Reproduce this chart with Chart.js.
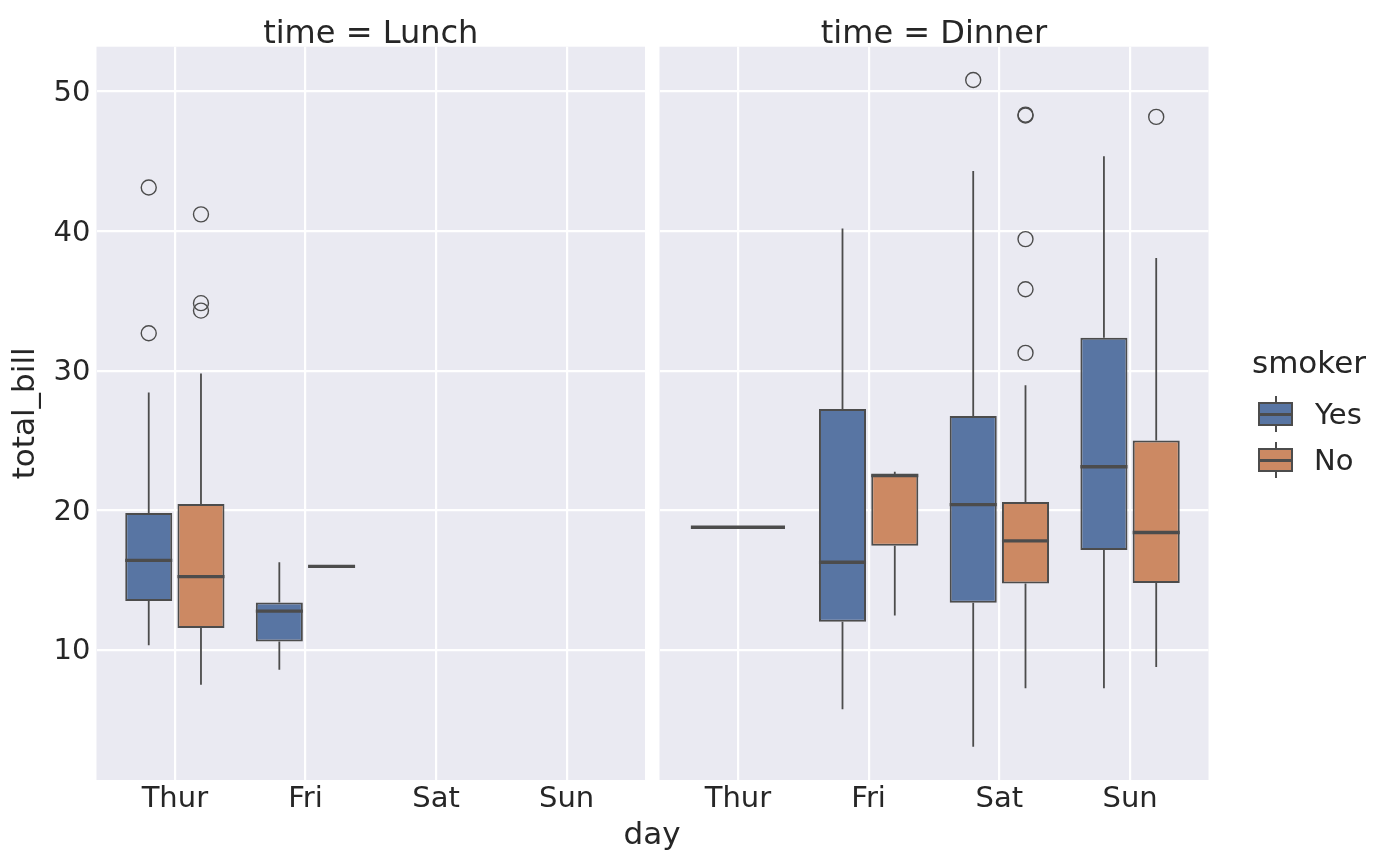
<!DOCTYPE html>
<html>
<head>
<meta charset="utf-8">
<script src="https://cdn.jsdelivr.net/npm/chart.js@4.4.1/dist/chart.umd.min.js"></script>
<style>
  body { margin: 0; background: #fff; }
  #wrap { position: relative; width: 1400px; height: 866px; overflow: hidden;
          font-family: 'DejaVu Sans', sans-serif; color: #262626; }
  canvas { position: absolute; left: 0; top: 0; }
  .txt { position: absolute; white-space: nowrap; }
  .patch { position: absolute; left: 1258px; width: 35px; height: 24px; box-sizing: border-box;
           border: 2px solid #4c4c4c; }
  .med { position: absolute; left: 0; right: 0; top: 50%; height: 3px; margin-top: -1.5px; background: #4c4c4c; }
  .whisk { position: absolute; left: 1275px; width: 2px; height: 6px; background: #4c4c4c; }
</style>
</head>
<body>
<div id="wrap">
  <canvas id="lunch" width="1400" height="866"></canvas>
  <canvas id="dinner" width="1400" height="866"></canvas>

  <div class="txt" style="left:652px;top:817.8px;font-size:31px;line-height:31px;transform:translateX(-50%)">day</div>

  <div class="txt" style="left:1252px;top:346.5px;font-size:31px;line-height:31px">smoker</div>
  <div class="whisk" style="top:396px"></div>
  <div class="whisk" style="top:426px"></div>
  <div class="patch" style="top:402px;background:#5875a3"><div class="med"></div></div>
  <div class="txt" style="left:1315px;top:399.8px;font-size:29px;line-height:29px">Yes</div>
  <div class="whisk" style="top:442px"></div>
  <div class="whisk" style="top:472px"></div>
  <div class="patch" style="top:448px;background:#cc8963"><div class="med"></div></div>
  <div class="txt" style="left:1314px;top:446.2px;font-size:29px;line-height:29px">No</div>
</div>
<script>
// categories and tick labels
const days = ['Thur', 'Fri', 'Sat', 'Sun'];
const yTicks = [10, 20, 30, 40, 50];

// box stats per day: [low whisker, q1, median, q3, high whisker], null = no data
const lunchYes = [[10.34, 13.51, 16.41, 19.80, 28.44], [8.58, 10.61, 12.78, 13.39, 16.27], null, null];
const lunchNo = [[7.51, 11.57, 15.25, 20.45, 29.80], [15.98, 15.98, 15.98, 15.98, 15.98], null, null];
const dinnerYes = [null, [5.75, 12.01, 16.28, 27.26, 40.17], [3.07, 13.38, 20.40, 26.75, 44.30], [7.25, 17.15, 23.12, 32.36, 45.35]];
const dinnerNo = [[18.78, 18.78, 18.78, 18.78, 18.78], [12.46, 17.46, 22.49, 22.58, 22.75], [7.25, 14.75, 17.81, 20.59, 28.95], [8.77, 14.79, 18.41, 24.99, 38.07]];

// outliers per day
const lunchYesOut = [[43.11, 32.68], [], [], []];
const lunchNoOut = [[41.19, 34.83, 34.30], [], [], []];
const dinnerYesOut = [[], [], [50.81], []];
const dinnerNoOut = [[], [], [48.27, 48.33, 39.42, 35.83, 31.27], [48.17]];

const yesColor = '#5875a3';
const noColor = '#cc8963';
const lineColor = '#4c4c4c';
const textColor = '#262626';

Chart.defaults.font.family = "'DejaVu Sans', sans-serif";
Chart.defaults.color = textColor;

// grey plot background
const bgPlugin = {
  id: 'plotBg',
  beforeDraw(chart) {
    const a = chart.chartArea;
    chart.ctx.save();
    chart.ctx.fillStyle = '#eaeaf2';
    chart.ctx.fillRect(a.left, a.top, a.right - a.left, a.bottom - a.top);
    chart.ctx.restore();
  }
};

// whiskers, medians and outliers on top of the floating bars
const boxPlugin = {
  id: 'boxParts',
  afterDatasetsDraw(chart) {
    const ctx = chart.ctx;
    const y = chart.scales.y;
    chart.data.datasets.forEach((ds, i) => {
      const meta = chart.getDatasetMeta(i);
      ds.stats.forEach((s, j) => {
        if (!s) return;
        const bar = meta.data[j];
        const half = bar.width / 2;
        ctx.save();
        ctx.strokeStyle = lineColor;
        ctx.lineWidth = 1.8;
        ctx.beginPath();
        ctx.moveTo(bar.x, y.getPixelForValue(s[0]));
        ctx.lineTo(bar.x, y.getPixelForValue(s[1]));
        ctx.moveTo(bar.x, y.getPixelForValue(s[3]));
        ctx.lineTo(bar.x, y.getPixelForValue(s[4]));
        ctx.stroke();
        ctx.lineWidth = 3.4;
        ctx.beginPath();
        const ym = y.getPixelForValue(s[2]);
        ctx.moveTo(bar.x - half, ym);
        ctx.lineTo(bar.x + half, ym);
        ctx.stroke();
        ctx.lineWidth = 1.4;
        ds.fliers[j].forEach(v => {
          ctx.beginPath();
          ctx.arc(bar.x, y.getPixelForValue(v), 7.5, 0, Math.PI * 2);
          ctx.stroke();
        });
        ctx.restore();
      });
    });
  }
};

function boxSet(label, stats, fliers, color) {
  return {
    label: label,
    data: stats.map(s => s ? [s[1], s[3]] : null),
    stats: stats,
    fliers: fliers,
    backgroundColor: color,
    borderColor: lineColor,
    borderWidth: 2,
    borderSkipped: false,
    categoryPercentage: 0.8,
    barPercentage: 0.9,
    skipNull: true
  };
}

function facet(id, title, yes, no, yesOut, noOut, padLeft, padRight, firstCol) {
  return new Chart(document.getElementById(id), {
    type: 'bar',
    data: {
      labels: days,
      datasets: [boxSet('Yes', yes, yesOut, yesColor), boxSet('No', no, noOut, noColor)]
    },
    options: {
      responsive: false,
      animation: false,
      events: [],
      layout: { padding: { left: padLeft, right: padRight, top: 0, bottom: 0 } },
      plugins: {
        legend: { display: false },
        tooltip: { enabled: false },
        title: {
          display: true,
          text: title,
          fullSize: false,
          color: textColor,
          font: { size: 32, weight: 'normal', lineHeight: 0.6 },
          padding: { top: 24.9, bottom: 2.6 }
        }
      },
      scales: {
        x: {
          offset: true,
          afterBuildTicks: s => { s._startValue -= 0.1; s._valueRange += 0.2; },
          afterFit: s => { s.height = 86; },
          grid: { offset: false, color: '#ffffff', lineWidth: 2.2, drawTicks: false },
          border: { display: false },
          ticks: { color: textColor, font: { size: 29, lineHeight: 1 }, padding: 4.5, maxRotation: 0, autoSkip: false }
        },
        y: {
          min: 0.683,
          max: 53.197,
          afterBuildTicks: s => { s.ticks = yTicks.map(v => ({ value: v })); },
          afterFit: s => { s.width = firstCol ? 96.5 : 0; },
          grid: { color: '#ffffff', lineWidth: 2.2, drawTicks: false },
          border: { display: false },
          ticks: { display: firstCol, color: textColor, font: { size: 29 }, padding: 6, labelOffset: 2 },
          title: {
            display: firstCol,
            text: 'total_bill',
            color: textColor,
            font: { size: 31, lineHeight: 1.2 },
            padding: { top: 7.7, bottom: 0 }
          }
        }
      }
    },
    plugins: [bgPlugin, boxPlugin]
  });
}

facet('lunch', 'time = Lunch', lunchYes, lunchNo, lunchYesOut, lunchNoOut, 0, 755, true);
facet('dinner', 'time = Dinner', dinnerYes, dinnerNo, dinnerYesOut, dinnerNoOut, 659.5, 191.5, false);
</script>
</body>
</html>
